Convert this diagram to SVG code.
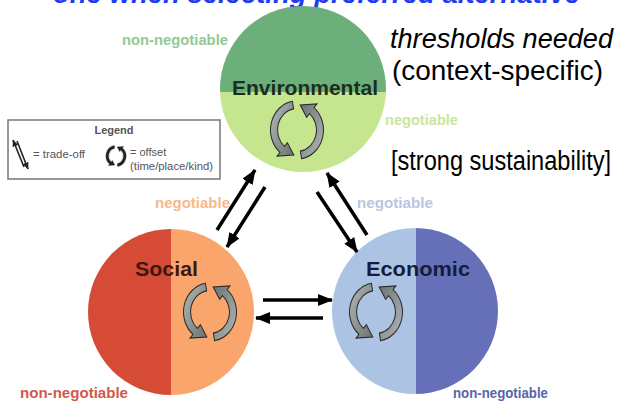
<svg xmlns="http://www.w3.org/2000/svg" xmlns:xlink="http://www.w3.org/1999/xlink" width="618" height="406" viewBox="0 0 618 406">
  <style>
    text { font-family: "Liberation Sans", Arial, sans-serif; }
    .title { font-size: 27px; font-weight: bold; font-style: italic; fill: #1f3cf5; }
    .note { font-size: 27px; fill: #000; }
    .name { font-size: 21px; font-weight: bold; }
    .tag { font-size: 14.5px; font-weight: bold; }
    .leg { font-size: 11px; fill: #555; }
    .conn { stroke: #000; stroke-width: 3.5; fill: none; marker-end: url(#head); }
    .legconn { stroke: #222; stroke-width: 1.6; fill: none; marker-end: url(#smallhead); }
    .cyc { fill: url(#cycfill); stroke: #2a2a2a; stroke-width: 1; }
  </style>
  <defs>
    <marker id="head" markerUnits="userSpaceOnUse" markerWidth="15" markerHeight="12" viewBox="0 0 15 12" refX="14" refY="6" orient="auto">
      <path d="M0,0 L15,6 L0,12 Z" fill="#000"/>
    </marker>
    <marker id="smallhead" markerUnits="userSpaceOnUse" markerWidth="7" markerHeight="6" viewBox="0 0 7 6" refX="6.5" refY="3" orient="auto">
      <path d="M0,0 L7,3 L0,6 Z" fill="#222"/>
    </marker>
    <linearGradient id="cycfill" x1="0" y1="0" x2="1" y2="1">
      <stop offset="0" stop-color="#b4b8b8"/>
      <stop offset="1" stop-color="#6c7272"/>
    </linearGradient>
    <!-- pair of curved arrows running round a circle (offset symbol) -->
    <g id="cycle">
      <path id="cycArc" d="M -4.60 -26.10 A 26.5 26.5 0 0 0 -17.03 20.30 L -19.93 23.75 L -3.20 22.78 L -9.64 11.49 L -12.53 14.94 A 19.5 19.5 0 0 1 -3.39 -19.20 Z"/>
      <use xlink:href="#cycArc" transform="rotate(180)"/>
    </g>
  </defs>

  <rect width="618" height="406" fill="#fff"/>

  <!-- heading, cut at the top edge -->
  <text class="title" x="53" y="3" textLength="527" lengthAdjust="spacingAndGlyphs">one when selecting preferred alternative</text>

  <!-- side notes -->
  <text class="note" x="390" y="48" font-style="italic" textLength="223" lengthAdjust="spacingAndGlyphs">thresholds needed</text>
  <text class="note" x="392" y="80" textLength="211" lengthAdjust="spacingAndGlyphs">(context-specific)</text>
  <text class="note" x="391" y="170" font-size="23.5" textLength="220" lengthAdjust="spacingAndGlyphs">[strong sustainability]</text>

  <!-- legend -->
  <g id="legend">
    <rect x="8" y="120" width="212" height="59" fill="#fff" stroke="#777" stroke-width="1.5"/>
    <text class="leg" x="114" y="134" text-anchor="middle" font-weight="bold" fill="#333">Legend</text>
    <line class="legconn" x1="24" y1="167" x2="13" y2="140"/>
    <line class="legconn" x1="17" y1="141" x2="28" y2="169"/>
    <text class="leg" x="33" y="158" textLength="52" lengthAdjust="spacingAndGlyphs">= trade-off</text>
    <use xlink:href="#cycle" transform="translate(116 156) scale(0.38 0.4)" fill="#222" stroke="#222"/>
    <text class="leg" x="130" y="156">= offset</text>
    <text class="leg" x="130" y="170" textLength="83" lengthAdjust="spacingAndGlyphs">(time/place/kind)</text>
  </g>

  <!-- Environmental -->
  <g id="environmental">
    <clipPath id="envClip"><circle cx="303" cy="89" r="83"/></clipPath>
    <g clip-path="url(#envClip)">
      <rect x="215" y="0" width="180" height="92" fill="#6caf7a"/>
      <rect x="215" y="92" width="180" height="90" fill="#c5e58f"/>
    </g>
    <text class="name" x="232" y="95" fill="#1c2e1c" textLength="146" lengthAdjust="spacingAndGlyphs">Environmental</text>
    <use class="cyc" xlink:href="#cycle" transform="translate(297 130) scale(1 1.1)"/>
    <text class="tag" x="122" y="45" fill="#93c994" textLength="106" lengthAdjust="spacingAndGlyphs">non-negotiable</text>
    <text class="tag" x="385" y="125" fill="#c8e69c" textLength="73" lengthAdjust="spacingAndGlyphs">negotiable</text>
  </g>

  <!-- Social -->
  <g id="social">
    <clipPath id="socClip"><circle cx="171" cy="312" r="83"/></clipPath>
    <g clip-path="url(#socClip)">
      <rect x="85" y="225" width="86" height="175" fill="#d54b35"/>
      <rect x="171" y="225" width="86" height="175" fill="#f9a56b"/>
    </g>
    <text class="name" x="135" y="276" fill="#3e1710" textLength="63" lengthAdjust="spacingAndGlyphs">Social</text>
    <use class="cyc" xlink:href="#cycle" transform="translate(210 312) scale(1 1.1)"/>
    <text class="tag" x="155" y="208" fill="#f7b98a" textLength="75" lengthAdjust="spacingAndGlyphs">negotiable</text>
    <text class="tag" x="20" y="398" fill="#d2584a" textLength="108" lengthAdjust="spacingAndGlyphs">non-negotiable</text>
  </g>

  <!-- Economic -->
  <g id="economic">
    <clipPath id="ecoClip"><circle cx="415" cy="311" r="83"/></clipPath>
    <g clip-path="url(#ecoClip)">
      <rect x="330" y="225" width="86" height="175" fill="#adc3e3"/>
      <rect x="416" y="225" width="86" height="175" fill="#6570b9"/>
    </g>
    <text class="name" x="366" y="276" fill="#161c3c" textLength="104" lengthAdjust="spacingAndGlyphs">Economic</text>
    <use class="cyc" xlink:href="#cycle" transform="translate(376 312) scale(1 1.1)"/>
    <text class="tag" x="357" y="208" fill="#b9c6e2" textLength="76" lengthAdjust="spacingAndGlyphs">negotiable</text>
    <text class="tag" x="453" y="398" font-weight="normal" fill="#5a64a8" textLength="95" lengthAdjust="spacingAndGlyphs">non-negotiable</text>
  </g>

  <!-- trade-off connectors -->
  <g id="connectors">
    <line class="conn" x1="217" y1="230" x2="255" y2="170"/>
    <line class="conn" x1="265" y1="187" x2="227" y2="247"/>
    <line class="conn" x1="317" y1="192" x2="357" y2="252"/>
    <line class="conn" x1="367" y1="235" x2="327" y2="173"/>
    <line class="conn" x1="263" y1="300" x2="332" y2="300"/>
    <line class="conn" x1="323" y1="318" x2="256" y2="318"/>
  </g>
</svg>
